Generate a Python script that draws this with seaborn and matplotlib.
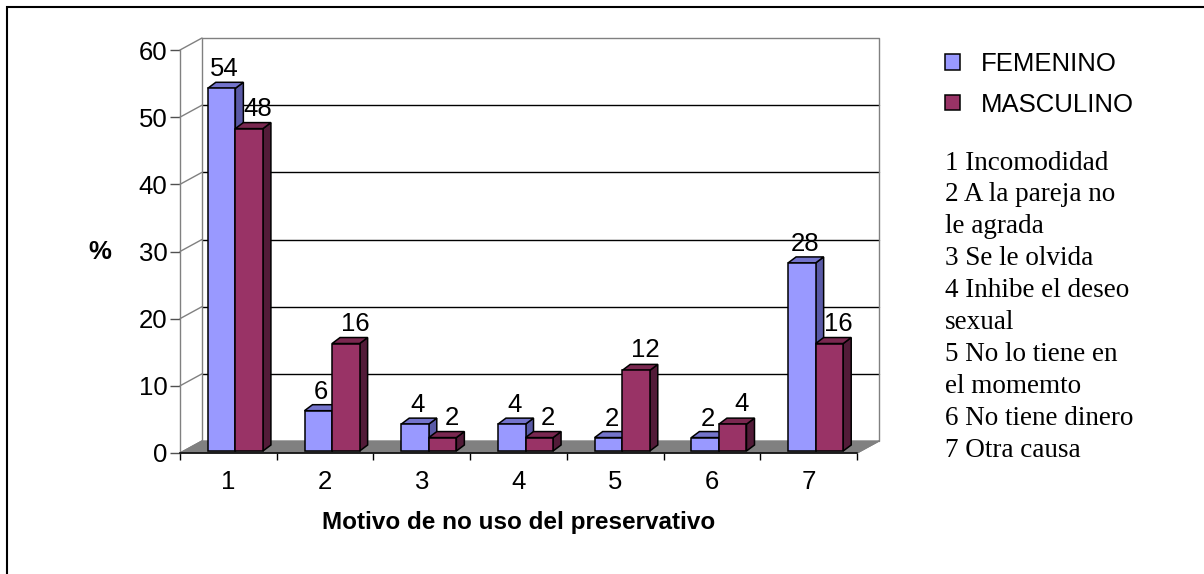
import numpy as np
import pandas as pd
import matplotlib
matplotlib.use("Agg")
import matplotlib.pyplot as plt
import seaborn as sns
from matplotlib.patches import Polygon, Rectangle, Patch
from matplotlib.transforms import ScaledTranslation

# ---------------- data ----------------
motivos = ["1", "2", "3", "4", "5", "6", "7"]
femenino = [54, 6, 4, 4, 2, 2, 28]
masculino = [48, 16, 2, 2, 12, 4, 16]
series = ["FEMENINO", "MASCULINO"]
y_ticks = [0, 10, 20, 30, 40, 50, 60]
descripciones = ["1 Incomodidad", "2 A la pareja no", "le agrada", "3 Se le olvida",
                 "4 Inhibe el deseo", "sexual", "5 No lo tiene en", "el momemto",
                 "6 No tiene dinero", "7 Otra causa"]
x_title = "Motivo de no uso del preservativo"
y_title = "%"

front_colors = ["#9999FF", "#993366"]
side_colors = ["#5A5AA6", "#521B38"]
top_colors = ["#7474CC", "#7A2850"]

df = pd.DataFrame({
    "motivo": motivos * 2,
    "pct": femenino + masculino,
    "sexo": [series[0]] * len(motivos) + [series[1]] * len(motivos),
})

sns.set_theme(style="white")
plt.rcParams["font.family"] = ["Liberation Sans", "DejaVu Sans"]
plt.rcParams["text.color"] = "black"
plt.rcParams["axes.labelcolor"] = "black"
plt.rcParams["xtick.color"] = "black"
plt.rcParams["ytick.color"] = "black"

FS = 18.5      # sans text size
FS_SERIF = 19.5

W, H = 1204, 574
fig = plt.figure(figsize=(W / 100, H / 100), dpi=100)
fig.patch.set_facecolor("white")
ax = fig.add_axes([180 / W, (H - 453) / H, 677 / W, 403 / H])
ax.patch.set_alpha(0)

sns.barplot(data=df, x="motivo", y="pct", hue="sexo", order=motivos, hue_order=series,
            palette=front_colors, width=0.57, saturation=1, edgecolor="black",
            linewidth=1.1, legend=False, ax=ax, zorder=5)
ax.set_xlim(-0.5, len(motivos) - 0.5)
ax.set_ylim(0, 60)

# pixel -> data conversion
sx = (len(motivos)) / 677.0
sy = 60.0 / 403.0

# back wall / floor (pseudo 3D)
wdx, wdy = 22 * sx, 12 * sy
x_l, x_r = -0.5, len(motivos) - 0.5
floor = Polygon([(x_l, 0), (x_r, 0), (x_r + wdx, wdy), (x_l + wdx, wdy)], closed=True,
                facecolor="#808080", edgecolor="#808080", lw=1, zorder=1, clip_on=False)
ax.add_patch(floor)
for v in y_ticks[1:-1]:
    ax.plot([x_l + wdx, x_r + wdx], [v + wdy, v + wdy], color="black", lw=1, zorder=1.5,
            clip_on=False)
for v in y_ticks:
    ax.plot([x_l, x_l + wdx], [v, v + wdy], color="#808080", lw=1, zorder=1.5, clip_on=False)
ax.plot([x_l + wdx, x_l + wdx, x_r + wdx, x_r + wdx],
        [wdy, 60 + wdy, 60 + wdy, wdy], color="#808080", lw=1, zorder=1.5, clip_on=False)
ax.plot([x_r, x_r + wdx], [0, wdy], color="#808080", lw=1, zorder=1.5, clip_on=False)

# bars: shift and 3D faces
shift_px = (7, 2)
bdx, bdy = 8 * sx, 6 * sy
shift_tr = ScaledTranslation(shift_px[0] / 100, shift_px[1] / 100, fig.dpi_scale_trans)
label_off = [(10, 14), (16, 15)]  # px
z = 3
for i_bar in range(len(motivos)):
    for h_i, cont in enumerate(ax.containers):
        bar = cont.patches[i_bar]
        x0 = bar.get_x() + shift_px[0] * sx
        w = bar.get_width()
        x1 = x0 + w
        y0 = shift_px[1] * sy
        hgt = bar.get_height()
        y1 = y0 + hgt
        z += 1
        bar.set_transform(ax.transData + shift_tr)
        bar.set_zorder(z + 0.5)
        side = Polygon([(x1, y0), (x1 + bdx, y0 + bdy), (x1 + bdx, y1 + bdy), (x1, y1)],
                       closed=True, facecolor=side_colors[h_i], edgecolor="black", lw=1.1,
                       zorder=z, clip_on=False)
        top = Polygon([(x0, y1), (x0 + bdx, y1 + bdy), (x1 + bdx, y1 + bdy), (x1, y1)],
                      closed=True, facecolor=top_colors[h_i], edgecolor="black", lw=1.1,
                      zorder=z, clip_on=False)
        ax.add_patch(side)
        ax.add_patch(top)
        ox, oy = label_off[h_i]
        ax.annotate(f"{hgt:g}", xy=(bar.get_x() + w / 2, hgt),
                    xytext=(ox * 0.72, oy * 0.72), textcoords="offset points",
                    ha="center", va="baseline", fontsize=FS, color="black",
                    zorder=100, annotation_clip=False)

# axes styling
for s in ["top", "right"]:
    ax.spines[s].set_visible(False)
ax.spines["left"].set_color("#808080")
ax.spines["left"].set_linewidth(1)
ax.spines["left"].set_zorder(2)
ax.spines["bottom"].set_color("black")
ax.spines["bottom"].set_linewidth(1.1)
ax.spines["bottom"].set_zorder(2)

ax.set_yticks(y_ticks)
ax.set_yticklabels([str(v) for v in y_ticks], fontsize=FS, color="black")
ax.tick_params(axis="y", which="major", direction="out", length=7, width=1,
               color="#505050", labelcolor="black", pad=2, left=True)
ax.set_xticks(range(len(motivos)))
ax.set_xticklabels(motivos, fontsize=FS, color="black")
ax.set_xticks(np.arange(-0.5, len(motivos), 1.0), minor=True)
ax.tick_params(axis="x", which="major", length=0, pad=12, bottom=True, labelcolor="black")
ax.tick_params(axis="x", which="minor", direction="out", length=5, width=1,
               color="black", bottom=True)
ax.grid(False)

ax.set_xlabel(x_title, fontsize=17.5, fontweight="bold", color="black")
ax.xaxis.set_label_coords(0.5, -70 / 403)
ax.xaxis.label.set_va("center")
ax.set_ylabel(y_title, rotation=0, fontsize=FS, fontweight="bold", color="black")
ax.yaxis.set_label_coords(-80 / 677, 201 / 403)
ax.yaxis.label.set_va("center")
ax.yaxis.label.set_ha("center")

# legend
handles = [Patch(facecolor=c, edgecolor="black", lw=1.1) for c in front_colors]
leg = fig.legend(handles, series, loc="upper left", bbox_to_anchor=(945 / W, 1 - 52 / H),
                 frameon=False, fontsize=FS, handlelength=0.6, handleheight=0.55,
                 handletextpad=0.8, labelspacing=0.65, borderpad=0, borderaxespad=0)
for t in leg.get_texts():
    t.set_color("black")

# description text
for i, line in enumerate(descripciones):
    fig.text(945 / W, 1 - (163 + 31.9 * i) / H, line, fontsize=FS_SERIF, color="black",
             family=["Liberation Serif", "DejaVu Serif"], va="center", ha="left")

# outer border
fig.add_artist(Rectangle((7 / W, -0.1), 1.2, 1.1 - 7 / H, transform=fig.transFigure,
                         fill=False, edgecolor="black", lw=1.5))

fig.savefig("out.png", dpi=100)
